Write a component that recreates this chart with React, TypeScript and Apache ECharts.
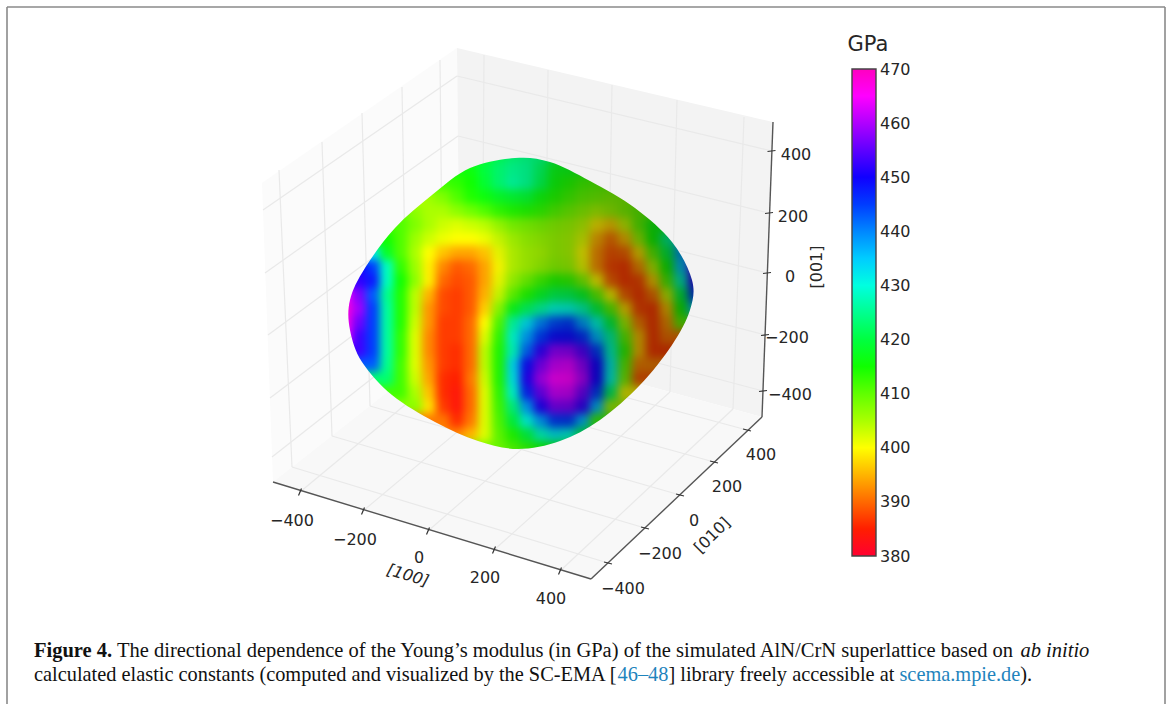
import React, { useEffect, useRef } from "react";
import * as echarts from "echarts";

type Pt = [number, number];

// ---- colour scale (one colour every 5 GPa)
const colorMin = 380;
const colorMax = 470;
const colorScale = [
  "#ff0030", "#ff1e00", "#ff6900", "#ffb400", "#ffff00", "#aaff00", "#60ff00", "#10ff00", "#00ff40", "#00ff90",
  "#00ffe0", "#00ccff", "#0087ff", "#003cff", "#1000ff", "#5f00ff", "#b000ff", "#ff00ff", "#ff00c0",
];

// ---- surface values in GPa, one list per image row; each row begins at column rowStarts[j]
const surfaceColumns = [345, 359, 373, 387, 401, 415, 429, 443, 457, 471, 485, 499, 513, 527, 541, 555, 569, 583, 597, 611, 625, 639, 653, 667, 681, 695];
const surfaceRows = [155, 169, 183, 197, 211, 225, 239, 253, 267, 281, 295, 309, 323, 337, 351, 365, 379, 393, 407, 421, 435, 449];
const rowStarts = [10, 9, 7, 5, 4, 3, 3, 2, 1, 1, 0, 0, 0, 0, 1, 2, 3, 4, 5, 7, 8, 11];
const rowValues: number[][] = [
  [418, 421, 423, 424, 424, 421, 417],
  [416, 420, 423, 425, 425, 422, 417],
  [412, 413, 415, 419, 423, 426, 425, 421, 416, 414, 412, 411],
  [403, 406, 408, 411, 414, 416, 418, 419, 419, 416, 414, 412, 410, 409, 408, 408],
  [410, 407, 405, 405, 407, 409, 411, 413, 414, 414, 413, 411, 409, 407, 405, 406, 408, 410],
  [412, 411, 408, 405, 403, 402, 403, 404, 406, 408, 408, 408, 407, 406, 404, 399, 397, 403, 410, 416],
  [415, 411, 406, 403, 401, 400, 400, 401, 403, 405, 406, 406, 406, 405, 402, 395, 391, 396, 406, 415, 425, 435],
  [432, 418, 411, 405, 400, 396, 394, 394, 396, 401, 404, 405, 405, 406, 405, 400, 393, 389, 390, 398, 410, 420, 438],
  [450, 445, 428, 413, 406, 399, 392, 389, 390, 394, 400, 404, 405, 406, 407, 406, 401, 393, 388, 387, 393, 404, 415, 435, 455],
  [452, 448, 428, 415, 407, 399, 390, 388, 389, 394, 401, 406, 409, 412, 414, 413, 408, 400, 390, 387, 388, 397, 411, 428, 452],
  [465, 457, 443, 425, 414, 404, 395, 388, 387, 389, 395, 403, 410, 414, 418, 421, 421, 418, 410, 400, 390, 387, 391, 403, 420, 445],
  [468, 459, 445, 426, 414, 404, 393, 388, 387, 389, 397, 407, 417, 422, 426, 430, 430, 427, 420, 410, 398, 388, 387, 396, 415, 435],
  [467, 456, 445, 426, 414, 403, 393, 387, 387, 390, 400, 411, 426, 433, 440, 444, 445, 438, 430, 420, 405, 392, 387, 393, 410],
  [465, 453, 445, 426, 413, 402, 392, 387, 387, 390, 402, 413, 429, 438, 445, 449, 449, 446, 436, 426, 410, 396, 387, 391],
  [453, 445, 426, 413, 402, 392, 387, 386, 390, 404, 414, 428, 442, 452, 458, 458, 454, 445, 428, 413, 396, 387],
  [443, 425, 412, 402, 393, 387, 386, 390, 404, 414, 433, 449, 457, 462, 463, 458, 450, 431, 410, 392],
  [423, 412, 403, 394, 386, 385, 391, 403, 414, 432, 451, 460, 465, 465, 460, 450, 430, 408, 389],
  [412, 405, 396, 386, 384, 390, 402, 413, 429, 447, 456, 462, 462, 456, 445, 422, 400],
  [407, 398, 387, 384, 390, 402, 412, 424, 438, 451, 457, 457, 452, 436, 405],
  [391, 386, 391, 402, 411, 420, 430, 438, 445, 445, 436, 412],
  [392, 395, 402, 410, 414, 420, 428, 432, 430, 420],
  [409, 411, 413, 415, 416, 415],
];

// ---- the silhouette of the surface
const outline: Pt[] = [
  [515, 158], [470, 168], [432, 195], [395, 228], [365, 268], [350, 300], [350, 330], [362, 362], [392, 395], [435, 422], [478, 441],
  [518, 449], [560, 441], [600, 420], [640, 385], [672, 345], [690, 310], [692, 280], [672, 242], [635, 208], [590, 181], [550, 162],
];

// ---- 3D box, as seen in the picture
const boxBackTop: Pt = [457, 48];
const boxBackFloor: Pt = [460, 335];
const boxLeftTop: Pt = [262, 183];
const boxLeftFloor: Pt = [273, 482];
const boxRightTop: Pt = [773, 122];
const boxRightFloor: Pt = [762, 417];
const boxFrontFloor: Pt = [591, 579];

const tickLabels = ["\u2212400", "\u2212200", "0", "200", "400"];
const zTickLabels = ["400", "200", "0", "\u2212200", "\u2212400"];
const xTicks: Pt[] = [[300, 492], [363, 511], [428, 531], [494, 550], [560, 571]];
const yTicks: Pt[] = [[608, 563], [645, 528], [680, 495], [714, 462], [747, 430]];
const zTicks: Pt[] = [[771.5, 151], [769, 213], [767, 273], [765, 335], [763, 391]];
const xLabelAt: Pt[] = [[292, 520], [355, 539], [419, 557], [485, 577], [551, 598]];
const yLabelAt: Pt[] = [[623, 588], [660, 553], [694, 520], [727, 486], [761, 454]];
const zLabelAt: Pt[] = [[796, 154], [793, 216], [790, 276], [787, 337], [790, 394]];
const xBack: Pt[] = [[482, 341], [545, 358], [607, 375], [670, 392], [733, 409]];
const yBack: Pt[] = [[292, 467], [332, 436], [370, 406], [407, 377], [443, 348]];
const leftWallTop: Pt[] = [[279, 170], [322, 142], [362, 113], [402, 87], [440, 60]];
const rightWallTop: Pt[] = [[484, 55], [548, 70], [612, 85], [677, 100], [744, 117]];
const backEdgeZ: Pt[] = [[457, 76], [458, 136], [458, 195], [459, 255], [459, 310]];
const leftEdgeZ: Pt[] = [[263, 210], [265, 273], [268, 335], [270, 398], [272, 457]];

const captionLine1 = "{b|Figure 4.} The directional dependence of the Young\u2019s modulus (in GPa) of the simulated AlN/CrN superlattice based on {i|ab initio}";
const captionLine2 = "calculated elastic constants (computed and visualized by the SC-EMA [{l|46\u201348}] library freely accessible at {l|scema.mpie.de}).";

const line = (a: Pt, b: Pt, stroke: string, lineWidth: number) => ({
  type: "line",
  silent: true,
  shape: { x1: a[0], y1: a[1], x2: b[0], y2: b[1] },
  style: { stroke, lineWidth },
});
const polygon = (points: Pt[], fill: string) => ({ type: "polygon", silent: true, shape: { points }, style: { fill } });
const label = (text: string, at: Pt, fontSize = 16, rotation = 0, fontStyle = "normal") => ({
  type: "text",
  silent: true,
  x: at[0],
  y: at[1],
  rotation,
  style: {
    text,
    x: 0,
    y: 0,
    fill: "#262626",
    font: `${fontStyle} ${fontSize}px "DejaVu Sans"`,
    align: "center",
    verticalAlign: "middle",
  },
});
const tickMark = (at: Pt, dx: number, dy: number) =>
  line([at[0] - dx, at[1] - dy], [at[0] + dx, at[1] + dy], "#333", 1.2);

function baseOption() {
  const grid = "#e9e9e9";
  const elements: any[] = [
    line([7, 704], [7, 7], "#8a8a8a", 1.6),
    line([7, 7], [1165, 7], "#8a8a8a", 1.6),
    line([1165, 7], [1165, 704], "#8a8a8a", 1.6),
    polygon([boxLeftTop, boxBackTop, boxBackFloor, boxLeftFloor], "#fbfbfb"),
    polygon([boxBackTop, boxRightTop, boxRightFloor, boxBackFloor], "#f3f3f3"),
    polygon([boxLeftFloor, boxBackFloor, boxRightFloor, boxFrontFloor], "#f8f8f8"),
  ];
  xTicks.forEach((t, i) => elements.push(line(t, xBack[i], grid, 1.2), line(xBack[i], rightWallTop[i], grid, 1.2)));
  yTicks.forEach((t, i) => elements.push(line(t, yBack[i], grid, 1.2), line(yBack[i], leftWallTop[i], grid, 1.2)));
  zTicks.forEach((t, i) => elements.push(line(t, backEdgeZ[i], grid, 1.2), line(backEdgeZ[i], leftEdgeZ[i], grid, 1.2)));
  elements.push(
    line(boxLeftFloor, boxFrontFloor, "#555", 1.4),
    line(boxFrontFloor, boxRightFloor, "#555", 1.4),
    line(boxRightFloor, boxRightTop, "#555", 1.4),
  );
  xTicks.forEach((t) => elements.push(tickMark(t, 1.5, -3.5)));
  yTicks.forEach((t) => elements.push(tickMark(t, 4, 1)));
  zTicks.forEach((t) => elements.push(tickMark(t, 4, -0.5)));
  tickLabels.forEach((s, i) => elements.push(label(s, xLabelAt[i]), label(s, yLabelAt[i])));
  zTickLabels.forEach((s, i) => elements.push(label(s, zLabelAt[i])));
  elements.push(
    label("[100]", [408, 575], 16, -0.29, "italic"),
    label("[010]", [712, 535], 16, 0.78),
    label("[001]", [816, 267], 16, Math.PI / 2),
    label("GPa", [868, 44], 21),
  );
  [captionLine1, captionLine2].forEach((text, i) => {
    const size = i === 0 ? 20.5 : 20.35;
    elements.push({
      type: "text",
      silent: true,
      x: 34,
      y: i === 0 ? 650 : 674,
      style: {
        text,
        rich: {
          b: { font: `bold ${size}px "Liberation Serif"`, fill: "#111" },
          i: { font: `italic ${size}px "Liberation Serif"`, fill: "#111" },
          l: { font: `${size}px "Liberation Serif"`, fill: "#1f84bd" },
        },
        font: `${size}px "Liberation Serif"`,
        fill: "#111",
        align: "left",
        verticalAlign: "middle",
      },
    });
  });
  return {
    animation: false,
    graphic: { elements },
    grid: { left: 852, top: 69, width: 24, height: 487, show: true, borderColor: "#444", borderWidth: 1.4, z: 5 },
    xAxis: { type: "category", data: ["GPa"], show: false },
    yAxis: {
      type: "value",
      position: "right",
      min: colorMin,
      max: colorMax,
      interval: 10,
      splitLine: { show: false },
      axisLine: { show: false },
      axisTick: { inside: true, length: 4, lineStyle: { color: "#333" } },
      axisLabel: { margin: 4, color: "#262626", fontFamily: "DejaVu Sans", fontSize: 16 },
    },
    series: [
      {
        type: "bar",
        silent: true,
        barWidth: "100%",
        data: [colorMax],
        itemStyle: {
          color: new echarts.graphic.LinearGradient(
            0,
            1,
            0,
            0,
            colorScale.map((color, i) => ({ offset: i / (colorScale.length - 1), color })),
          ),
        },
      },
    ],
  };
}

function surfaceOption() {
  const data: number[][] = [];
  surfaceRows.forEach((_, j) => {
    const values = rowValues[j];
    surfaceColumns.forEach((_, i) => {
      const k = Math.min(Math.max(i - rowStarts[j], 0), values.length - 1);
      data.push([i, j, values[k]]);
    });
  });
  const cell = 14;
  return {
    animation: false,
    grid: {
      left: surfaceColumns[0] - cell / 2,
      top: surfaceRows[0] - cell / 2,
      width: surfaceColumns.length * cell,
      height: surfaceRows.length * cell,
    },
    xAxis: { type: "category", show: false, data: surfaceColumns.map(String) },
    yAxis: { type: "category", show: false, inverse: true, data: surfaceRows.map(String) },
    visualMap: {
      show: false,
      type: "continuous",
      min: colorMin,
      max: colorMax,
      dimension: 2,
      inRange: { color: colorScale },
    },
    series: [{ type: "heatmap", silent: true, data, itemStyle: { borderWidth: 0 }, progressive: 0 }],
    graphic: {
      elements: [
        {
          type: "rect",
          silent: true,
          z: 100,
          shape: { x: 330, y: 140, width: 380, height: 330 },
          style: {
            fill: new echarts.graphic.LinearGradient(0, 0, 1, 0, [
              { offset: 0, color: "rgba(0,0,0,0)" },
              { offset: 0.4, color: "rgba(0,0,0,0)" },
              { offset: 0.6, color: "rgba(0,0,0,0.22)" },
              { offset: 0.75, color: "rgba(0,0,0,0.3)" },
              { offset: 1, color: "rgba(0,0,0,0.36)" },
            ]),
          },
        },
      ],
    },
  };
}

// Rounds the hand-read silhouette into a closed curve for the clip of the surface layer.
function smoothClosedPath(p: Pt[]) {
  const n = p.length;
  let d = `M ${p[0][0]} ${p[0][1]}`;
  for (let i = 0; i < n; i++) {
    const a = p[(i - 1 + n) % n];
    const b = p[i];
    const c = p[(i + 1) % n];
    const e = p[(i + 2) % n];
    const c1 = [b[0] + (c[0] - a[0]) / 6, b[1] + (c[1] - a[1]) / 6];
    const c2 = [c[0] - (e[0] - b[0]) / 6, c[1] - (e[1] - b[1]) / 6];
    d += ` C ${c1[0]} ${c1[1]} ${c2[0]} ${c2[1]} ${c[0]} ${c[1]}`;
  }
  return d + " Z";
}

export default function App() {
  const baseRef = useRef<HTMLDivElement>(null);
  const surfaceRef = useRef<HTMLDivElement>(null);
  useEffect(() => {
    const base = echarts.init(baseRef.current!, undefined, { renderer: "svg" });
    const surface = echarts.init(surfaceRef.current!, undefined, { renderer: "svg" });
    base.setOption(baseOption() as any);
    surface.setOption(surfaceOption() as any);
    return () => {
      base.dispose();
      surface.dispose();
    };
  }, []);
  const clip = `path("${smoothClosedPath(outline)}")`;
  const box: React.CSSProperties = { position: "absolute", left: 0, top: 0, width: 1170, height: 704 };
  return (
    <div style={{ position: "fixed", left: 0, top: 0, width: 1170, height: 704, background: "#fff", overflow: "hidden" }}>
      <div ref={baseRef} style={box} />
      <div style={{ ...box, clipPath: clip, pointerEvents: "none" }}>
        <div ref={surfaceRef} style={{ ...box, filter: "blur(4px)" }} />
      </div>
    </div>
  );
}
